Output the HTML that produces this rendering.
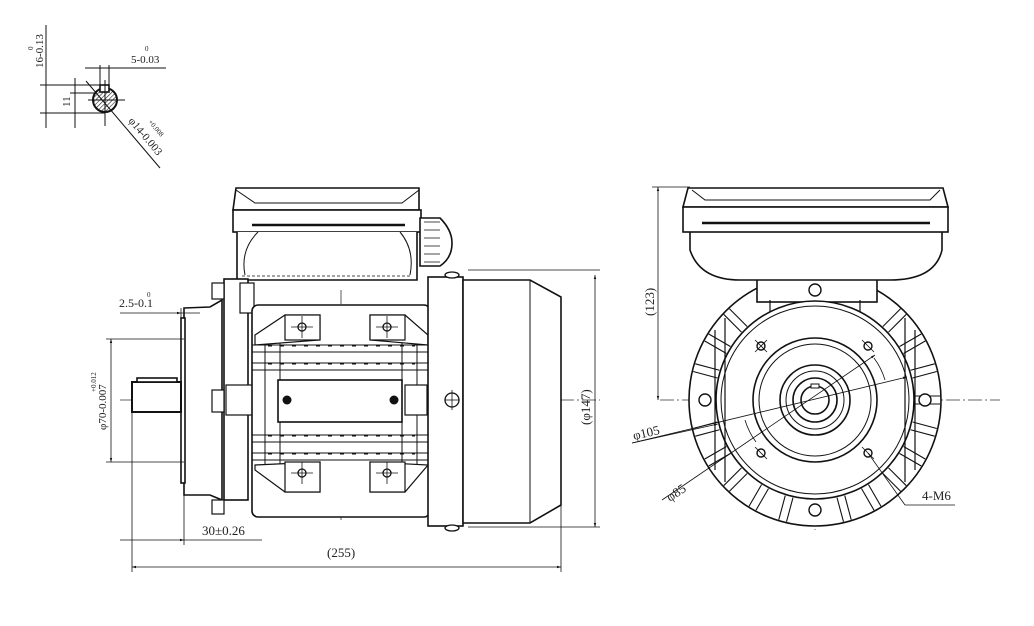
<!DOCTYPE html>
<html><head><meta charset="utf-8"><style>
html,body{margin:0;padding:0;background:#fff}
svg{display:block}
text{font-family:"Liberation Serif",serif;fill:#222}
</style></head><body>
<svg width="1034" height="626" viewBox="0 0 1034 626" xmlns="http://www.w3.org/2000/svg">
<defs>
<pattern id="h" width="3" height="3" patternUnits="userSpaceOnUse" patternTransform="rotate(45)"><line x1="0" y1="0" x2="0" y2="3" stroke="#222" stroke-width="1.2"/></pattern>
<marker id="a" viewBox="0 0 10 10" refX="10" refY="5" markerWidth="7" markerHeight="5" orient="auto-start-reverse"><path d="M0 2 L10 5 L0 8 Z" fill="#111"/></marker>
</defs>
<g fill="none" stroke="#111" stroke-width="1">
<!-- Key detail -->
<circle cx="105" cy="100" r="12" fill="url(#h)" stroke-width="2"/>
<rect x="100" y="85" width="9" height="7" fill="#fff" stroke-width="1.6"/>
<line x1="46" y1="25" x2="46" y2="128"/>
<line x1="40" y1="85" x2="100" y2="85"/><line x1="40" y1="113" x2="105" y2="113"/>
<line x1="75" y1="78" x2="75" y2="128"/><line x1="70" y1="93" x2="95" y2="93"/>
<line x1="100" y1="65" x2="100" y2="85"/><line x1="109" y1="65" x2="109" y2="85"/>
<line x1="85" y1="68" x2="166" y2="68"/>
<line x1="88" y1="100" x2="125" y2="100"/><line x1="105" y1="80" x2="105" y2="126"/>
<line x1="86" y1="81" x2="160" y2="168"/>
</g>
<text x="0" y="0" font-size="11" transform="translate(43,68) rotate(-90)">16-0.13</text>
<text x="0" y="0" font-size="7" transform="translate(33,50) rotate(-90)">0</text>
<text x="131" y="63" font-size="11">5-0.03</text><text x="145" y="51" font-size="7">0</text>
<text x="0" y="0" font-size="11" transform="translate(70,107) rotate(-90)">11</text>
<text x="0" y="0" font-size="11" transform="translate(128,121) rotate(50)">φ14-0.003</text>
<text x="0" y="0" font-size="7" transform="translate(148,122) rotate(50)">+0.008</text>

<g stroke="#333" stroke-width="0.8" stroke-dasharray="14,3,2,3" fill="none">
<line x1="120" y1="400" x2="600" y2="400"/>
<line x1="341" y1="290" x2="341" y2="520"/>
<line x1="660" y1="400" x2="1000" y2="400"/>
<line x1="815" y1="265" x2="815" y2="530"/>
</g>

<!-- SIDE VIEW -->
<g fill="#fff" stroke="#111" stroke-width="1.6">
<path d="M236 188 L419 188 L419 210 L233 210 Z"/>
<path d="M236 190 L255 203 L402 203 L419 190" fill="none" stroke-width="1"/>
<rect x="233" y="210" width="188" height="22"/>
<line x1="252" y1="225" x2="405" y2="225" stroke-width="2.5"/>
<path d="M237 232 L237 280 L417 280 L417 232"/>
<path d="M258 232 Q240 250 245 275 M400 232 Q415 250 410 275" fill="none" stroke-width="1"/>
<line x1="242" y1="276" x2="410" y2="276" stroke-dasharray="3,2" stroke-width="0.8"/>
<path d="M420 218 L440 218 Q452 230 452 243 Q452 258 440 266 L420 266 Z"/>
<path d="M424 222 L440 222 M424 230 L440 230 M424 238 L440 238 M424 246 L440 246 M424 254 L440 254 M424 262 L440 262" stroke-width="0.7" fill="none"/>
<path d="M184 308 L210 307 L222 300 L222 500 L210 495 L184 495 Z"/>
<rect x="181" y="318" width="4" height="165"/>
<rect x="224" y="279" width="24" height="221"/>
<rect x="212" y="283" width="12" height="16" stroke-width="1.2"/>
<rect x="212" y="390" width="12" height="22" stroke-width="1.2"/>
<rect x="212" y="500" width="12" height="14" stroke-width="1.2"/>
<rect x="240" y="283" width="14" height="30" stroke-width="1.2"/>
<rect x="226" y="385" width="30" height="30" stroke-width="1.2"/>
<rect x="132" y="382" width="49" height="30" stroke-width="2"/>
<rect x="137" y="378" width="40" height="4"/>
<rect x="252" y="305" width="178" height="212" rx="6"/>
<g stroke-width="1" fill="none">
<line x1="252" y1="345" x2="430" y2="345"/><line x1="252" y1="352" x2="430" y2="352"/>
<line x1="252" y1="363" x2="430" y2="363"/><line x1="252" y1="370" x2="430" y2="370"/>
<line x1="252" y1="435" x2="430" y2="435"/><line x1="252" y1="442" x2="430" y2="442"/>
<line x1="252" y1="453" x2="430" y2="453"/><line x1="252" y1="460" x2="430" y2="460"/>
<line x1="265" y1="340" x2="265" y2="465"/><line x1="417" y1="340" x2="417" y2="465"/>
<line x1="280" y1="340" x2="280" y2="465"/><line x1="402" y1="340" x2="402" y2="465"/>
<line x1="268" y1="346" x2="415" y2="346" stroke-dasharray="4,8"/>
<line x1="268" y1="364" x2="415" y2="364" stroke-dasharray="4,8"/>
<line x1="268" y1="436" x2="415" y2="436" stroke-dasharray="4,8"/>
<line x1="268" y1="454" x2="415" y2="454" stroke-dasharray="4,8"/>
</g>
<path d="M255 335 L285 315 L320 315 L320 340 L255 345 Z" stroke-width="1.2"/>
<path d="M370 315 L405 315 L428 335 L428 345 L370 340 Z" stroke-width="1.2"/>
<path d="M255 465 L320 462 L320 492 L285 492 L255 470 Z" stroke-width="1.2"/>
<path d="M370 462 L428 465 L405 492 L370 492 Z" stroke-width="1.2"/>
<rect x="285" y="315" width="35" height="25" stroke-width="1.2"/>
<rect x="370" y="315" width="35" height="25" stroke-width="1.2"/>
<rect x="285" y="462" width="35" height="30" stroke-width="1.2"/>
<rect x="370" y="462" width="35" height="30" stroke-width="1.2"/>
<rect x="278" y="380" width="124" height="42" stroke-width="1.6"/>
<rect x="405" y="385" width="22" height="30" stroke-width="1.2"/>
<rect x="428" y="277" width="35" height="249"/>
<path d="M463 280 L530 280 L561 297 L561 505 L530 523 L463 523 Z"/>
<line x1="530" y1="280" x2="530" y2="523" stroke-width="1"/>
</g>
<g fill="#fff" stroke="#111" stroke-width="1.3">
<circle cx="302" cy="327" r="4"/><circle cx="387" cy="327" r="4"/>
<circle cx="302" cy="473" r="4"/><circle cx="387" cy="473" r="4"/>
<circle cx="452" cy="400" r="7"/>
<ellipse cx="452" cy="275" rx="7" ry="3"/><ellipse cx="452" cy="528" rx="7" ry="3"/>
</g>
<circle cx="287" cy="400" r="4.5" fill="#111"/><circle cx="394" cy="400" r="4.5" fill="#111"/>
<g stroke="#111" stroke-width="0.8" fill="none">
<line x1="302" y1="316" x2="302" y2="338"/><line x1="291" y1="327" x2="313" y2="327"/>
<line x1="387" y1="316" x2="387" y2="338"/><line x1="376" y1="327" x2="398" y2="327"/>
<line x1="302" y1="462" x2="302" y2="484"/><line x1="291" y1="473" x2="313" y2="473"/>
<line x1="387" y1="462" x2="387" y2="484"/><line x1="376" y1="473" x2="398" y2="473"/>
<line x1="452" y1="390" x2="452" y2="410"/><line x1="445" y1="400" x2="459" y2="400"/>
<line x1="468" y1="270" x2="600" y2="270"/><line x1="468" y1="527" x2="600" y2="527"/>
<line x1="595" y1="275" x2="595" y2="527" marker-start="url(#a)" marker-end="url(#a)"/>
<line x1="132" y1="412" x2="132" y2="572"/><line x1="561" y1="505" x2="561" y2="572"/>
<line x1="132" y1="567" x2="561" y2="567" marker-start="url(#a)" marker-end="url(#a)"/>
<line x1="184" y1="495" x2="184" y2="545"/>
<line x1="120" y1="540" x2="184" y2="540" marker-end="url(#a)"/><line x1="184" y1="540" x2="262" y2="540"/>
<line x1="120" y1="313" x2="181" y2="313" marker-end="url(#a)"/><line x1="181" y1="313" x2="200" y2="313"/>
<line x1="181" y1="308" x2="181" y2="318"/>
<line x1="106" y1="339" x2="184" y2="339"/><line x1="106" y1="462" x2="184" y2="462"/>
<line x1="111" y1="339" x2="111" y2="462" marker-start="url(#a)" marker-end="url(#a)"/>
</g>
<text x="0" y="0" font-size="13" transform="translate(590,425) rotate(-90)">(φ147)</text>
<text x="327" y="557" font-size="13">(255)</text>
<text x="202" y="535" font-size="13">30±0.26</text>
<text x="119" y="307" font-size="12">2.5-0.1</text><text x="147" y="297" font-size="7">0</text>
<text x="0" y="0" font-size="11" transform="translate(106,430) rotate(-90)">φ70-0.007</text>
<text x="0" y="0" font-size="7" transform="translate(96,392) rotate(-90)">+0.012</text>

<!-- FRONT VIEW -->
<g fill="#fff" stroke="#111" stroke-width="1.6">
<circle cx="815" cy="400" r="126"/>
</g>
<g stroke="#111" stroke-width="1.1" fill="none" transform="translate(815,400)">
<g id="fin"><line x1="100" y1="-4" x2="125" y2="-4"/><line x1="100" y1="4" x2="125" y2="4"/></g>
<use href="#fin" transform="rotate(-45)"/><use href="#fin" transform="rotate(-30)"/><use href="#fin" transform="rotate(-15)"/>
<use href="#fin" transform="rotate(15)"/><use href="#fin" transform="rotate(30)"/><use href="#fin" transform="rotate(45)"/><use href="#fin" transform="rotate(60)"/><use href="#fin" transform="rotate(75)"/>
<use href="#fin" transform="rotate(105)"/><use href="#fin" transform="rotate(120)"/><use href="#fin" transform="rotate(135)"/><use href="#fin" transform="rotate(150)"/><use href="#fin" transform="rotate(165)"/>
<use href="#fin" transform="rotate(195)"/><use href="#fin" transform="rotate(210)"/><use href="#fin" transform="rotate(225)"/>
</g>
<g fill="#fff" stroke="#111" stroke-width="1.6">
<rect x="757" y="272" width="120" height="30"/>
<path d="M690 232 L690 250 Q700 280 740 280 L890 280 Q935 280 942 250 L942 232" />
<path d="M688 188 L943 188 L948 207 L683 207 Z"/>
<path d="M692 190 L705 200 L930 200 L940 190" fill="none" stroke-width="1"/>
<rect x="683" y="207" width="265" height="25"/>
<line x1="702" y1="223" x2="930" y2="223" stroke-width="2.5"/>
<circle cx="815" cy="400" r="99"/>
<circle cx="815" cy="400" r="94" stroke-width="1"/>
<circle cx="815" cy="400" r="62"/>
<circle cx="815" cy="400" r="56" stroke-width="1"/>
<circle cx="815" cy="400" r="35"/>
<circle cx="815" cy="400" r="29" stroke-width="1"/>
<circle cx="815" cy="400" r="22"/>
<circle cx="815" cy="400" r="14"/>
<rect x="811" y="384" width="8" height="4" stroke-width="1"/>
</g>
<g stroke="#111" stroke-width="1.2" fill="none">
<path d="M715 330 L715 470 M725 318 L725 482 M905 318 L905 482 M915 330 L915 470"/>
<path d="M770 300 L770 312 M860 300 L860 312"/>
<path d="M874 358 A70 70 0 0 1 885 380 M756 442 A70 70 0 0 1 745 420" stroke-width="0.8"/>
</g>
<g fill="#fff" stroke="#111" stroke-width="1.4">
<circle cx="761" cy="346" r="4"/><circle cx="868" cy="346" r="4"/>
<circle cx="761" cy="453" r="4"/><circle cx="868" cy="453" r="4"/>
<circle cx="705" cy="400" r="6"/><circle cx="925" cy="400" r="6"/>
<circle cx="815" cy="290" r="6"/><circle cx="815" cy="510" r="6"/>
</g>
<g stroke="#111" stroke-width="0.8" fill="none">
<line x1="658" y1="187" x2="658" y2="400" marker-start="url(#a)" marker-end="url(#a)"/><line x1="652" y1="187" x2="690" y2="187"/>
<line x1="632" y1="443" x2="907" y2="377" marker-end="url(#a)"/>
<line x1="718" y1="424" x2="632" y2="443" marker-start="url(#a)"/>
<line x1="662" y1="500" x2="875" y2="355" marker-end="url(#a)"/>
<line x1="868" y1="453" x2="905" y2="505"/><line x1="905" y1="505" x2="955" y2="505"/>
<path d="M755 340 L767 352 M755 352 L767 340 M862 340 L874 352 M862 447 L874 459 M755 447 L767 459"/>
</g>
<text x="0" y="0" font-size="13" transform="translate(654,316) rotate(-90)">(123)</text>
<text x="0" y="0" font-size="13" transform="translate(634,440) rotate(-13)">φ105</text>
<text x="0" y="0" font-size="13" transform="translate(670,502) rotate(-34)">φ85</text>
<text x="922" y="500" font-size="13">4-M6</text>
</svg>
</body></html>
